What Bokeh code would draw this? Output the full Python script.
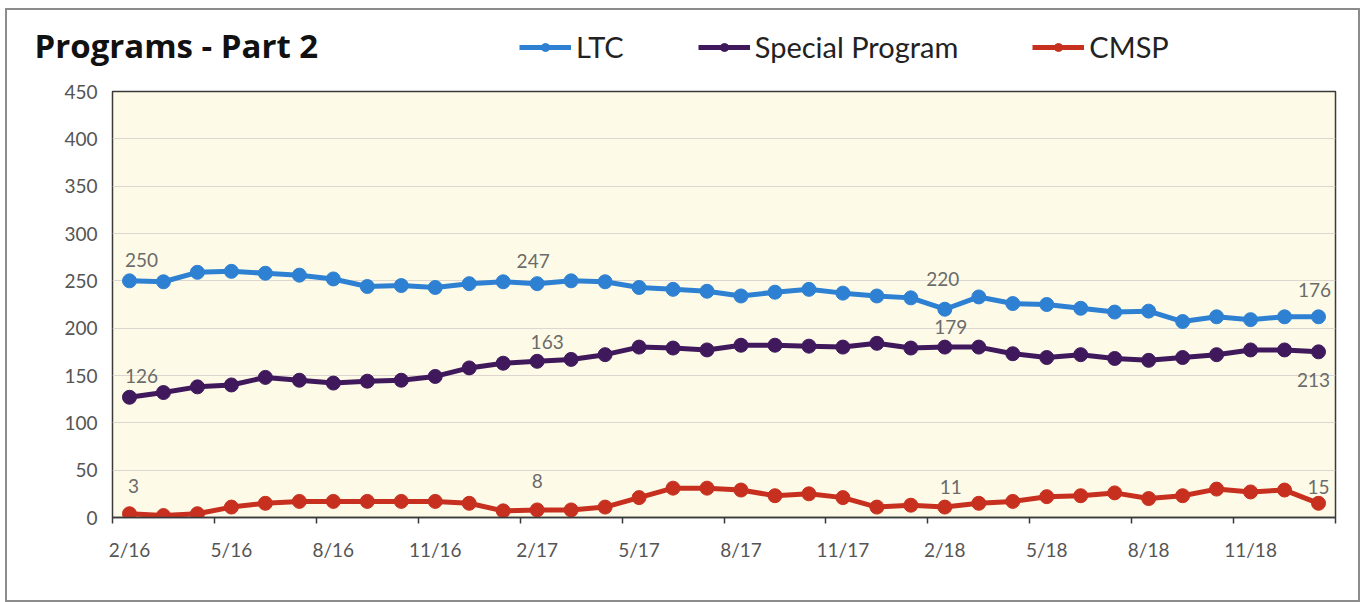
from bokeh.plotting import figure
from bokeh.layouts import column
from bokeh.models import (FixedTicker, Label, Legend, LegendItem, ColumnDataSource,
                          LabelSet)
from bokeh.core.properties import value
from bokeh.embed import file_html
from bokeh.resources import INLINE

months = ["2/16", "3/16", "4/16", "5/16", "6/16", "7/16", "8/16", "9/16", "10/16", "11/16",
          "12/16", "1/17", "2/17", "3/17", "4/17", "5/17", "6/17", "7/17", "8/17", "9/17",
          "10/17", "11/17", "12/17", "1/18", "2/18", "3/18", "4/18", "5/18", "6/18", "7/18",
          "8/18", "9/18", "10/18", "11/18", "12/18", "1/19"]

ltc = [250, 249, 259, 260, 258, 256, 252, 244, 245, 243, 247, 249, 247, 250, 249, 243, 241, 239,
       234, 238, 241, 237, 234, 232, 220, 233, 226, 225, 221, 217, 218, 207, 212, 209, 212, 212]
special = [127, 132, 138, 140, 148, 145, 142, 144, 145, 149, 158, 163, 165, 167, 172, 180, 179, 177,
           182, 182, 181, 180, 184, 179, 180, 180, 173, 169, 172, 168, 166, 169, 172, 177, 177, 175]
cmsp = [4, 2, 4, 11, 15, 17, 17, 17, 17, 17, 15, 7, 8, 8, 11, 21, 31, 31,
        29, 23, 25, 21, 11, 13, 11, 15, 17, 22, 23, 26, 20, 23, 30, 27, 29, 15]

title_text = "Programs - Part 2"
series_names = ["LTC", "Special Program", "CMSP"]
y_ticks = [0, 50, 100, 150, 200, 250, 300, 350, 400, 450]

# data labels as printed on the chart
label_idx = [0, 12, 24, 35]
ltc_labels = ["250", "247", "220", "176"]
special_labels = ["126", "163", "179", "213"]
cmsp_labels = ["3", "8", "11", "15"]

# label placement (pixels): x shift, y shift (up positive)
ltc_dx, ltc_dy = [12, -4, -2, -4], [21, 23, 30, 27]
sp_dx, sp_dy = [12, 10, 6, -5], [21, 19, 20, -28]
cm_dx, cm_dy = [4, 0, 6, 0], [28, 29, 20, 16]

colors = ["#2E80D2", "#40195C", "#C7301F"]
x = list(range(len(months)))

W = 1351
HEAD_H = 71
MAIN_H = 519
nan = float("nan")

# ---------- header: title + legend ----------
head = figure(width=W, height=HEAD_H, output_backend="svg", toolbar_location=None,
              x_range=(0, W), y_range=(0, HEAD_H), min_border=0,
              x_axis_location=None, y_axis_location=None)
if "frame_align" in head.properties():
    head.frame_align = False
head.grid.visible = False
head.outline_line_color = None
head.background_fill_color = "white"
head.border_fill_color = "white"

items = []
for name, c in zip(series_names, colors):
    r1 = head.line([nan], [nan], line_color=c, line_width=5)
    r2 = head.scatter([nan], [nan], size=13, fill_color=c, line_color=c)
    items.append(LegendItem(label=name, renderers=[r1, r2]))
legend = Legend(items=items, orientation="horizontal", location=(512, 17),
                padding=0, spacing=74, label_standoff=5, glyph_width=52, glyph_height=20,
                border_line_color=None, background_fill_alpha=0,
                label_text_font="Lato", label_text_font_size="29px", label_text_color="#222222")
head.add_layout(legend, "center")
head.add_layout(Label(x=27, y=36, x_units="screen", y_units="screen", text=title_text,
                      text_font="Open Sans", text_font_style="bold", text_font_size="33px",
                      text_baseline="middle", text_color="#111111"))

# ---------- main chart ----------
p = figure(width=W, height=MAIN_H, output_backend="svg", toolbar_location=None,
           x_range=(-0.5, len(months) - 0.5), y_range=(0, 450),
           min_border_left=105, min_border_right=23, min_border_top=10, min_border_bottom=83)
p.background_fill_color = "#FDFBE7"
p.border_fill_color = "white"
p.outline_line_color = "#3a3a3a"
p.outline_line_width = 1.5

p.yaxis.ticker = FixedTicker(ticks=y_ticks)
p.yaxis.axis_line_color = None
p.yaxis.major_tick_line_color = None
p.yaxis.minor_tick_line_color = None
p.yaxis.major_label_text_font = "Lato"
p.yaxis.major_label_text_font_size = "19px"
p.yaxis.major_label_text_color = "#555555"
p.yaxis.major_label_standoff = 9

xt = list(range(0, len(months), 3))
p.xaxis.ticker = FixedTicker(ticks=xt, minor_ticks=[t - 0.5 for t in xt] + [len(months) - 0.5])
p.xaxis.major_label_overrides = {i: months[i] for i in xt}
p.xaxis.axis_line_color = "#3a3a3a"
p.xaxis.axis_line_width = 1.5
p.xaxis.major_tick_line_color = None
p.xaxis.minor_tick_line_color = "#3a3a3a"
p.xaxis.minor_tick_line_width = 1.5
p.xaxis.minor_tick_out = 6
p.xaxis.minor_tick_in = 0
p.xaxis.major_label_text_font = "Lato"
p.xaxis.major_label_text_font_size = "19px"
p.xaxis.major_label_text_color = "#555555"
p.xaxis.major_label_standoff = 14

p.xgrid.grid_line_color = None
p.ygrid.ticker = FixedTicker(ticks=y_ticks[1:])
p.ygrid.grid_line_color = "#DDD6D0"
p.ygrid.grid_line_width = 1

for ys, c in zip([ltc, special, cmsp], colors):
    p.line(x, ys, line_color=c, line_width=5)
    p.scatter(x, ys, size=14, fill_color=c, line_color=c)

for ys, labs, dxs, dys in [(ltc, ltc_labels, ltc_dx, ltc_dy),
                           (special, special_labels, sp_dx, sp_dy),
                           (cmsp, cmsp_labels, cm_dx, cm_dy)]:
    src = ColumnDataSource(dict(x=[x[i] for i in label_idx], y=[ys[i] for i in label_idx],
                                t=labs, dx=dxs, dy=dys))
    p.add_layout(LabelSet(x="x", y="y", text="t", source=src, x_offset="dx", y_offset="dy",
                          text_align="center", text_baseline="middle",
                          text_font=value("Lato"), text_font_size="19px", text_color="#6b6b6b"))

layout = column(head, p, spacing=0)
layout.margin = (10, 0, 0, 7)
layout.styles = {"box-shadow": "0 0 0 2px #8c8c8c"}

open("out.html", "w").write(file_html(layout, INLINE))
